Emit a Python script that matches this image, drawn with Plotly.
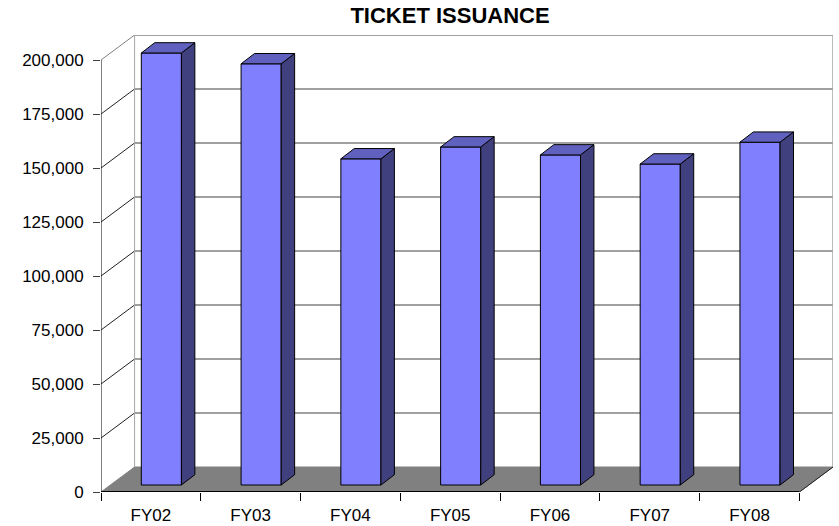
import plotly.graph_objects as go

categories = ["FY02", "FY03", "FY04", "FY05", "FY06", "FY07", "FY08"]
tickets = [200000, 195000, 151000, 156500, 152800, 148600, 158700]
y_ticks = [0, 25000, 50000, 75000, 100000, 125000, 150000, 175000, 200000]
chart_title = "TICKET ISSUANCE"

PX_X = 1 / 99.5            # category units per pixel
PX_Y = 200000 / 432        # value units per pixel
WALL_DX, WALL_DY = 33.5 * PX_X, 25 * PX_Y   # depth of the whole box
BAR_DX, BAR_DY = 13.4 * PX_X, 10.3 * PX_Y   # depth of each bar
BASE_X, BASE_Y = 0.105, 7 * PX_Y            # front face of bar vs front of box
BAR_W = 40 * PX_X
N = len(categories)
X_END = N + WALL_DX
FONT = "Liberation Sans, Arial, sans-serif"

shapes = []
def seg(x0, y0, x1, y1, color, width=1):
    shapes.append(dict(type="line", layer="below", xref="x", yref="y", x0=x0, y0=y0, x1=x1, y1=y1,
                       line=dict(color=color, width=width)))

# floor
shapes.append(dict(type="path", layer="below", xref="x", yref="y",
                   path=f"M0,0 L{N},0 L{X_END},{WALL_DY} L{WALL_DX},{WALL_DY} Z",
                   fillcolor="#808080", line=dict(color="#808080", width=1)))
top = y_ticks[-1]
# back wall grid and left-side grid
for t in y_ticks[1:]:
    seg(WALL_DX, t + WALL_DY, X_END, t + WALL_DY, "#808080", 1.5)
    seg(0, t, WALL_DX, t + WALL_DY, "#808080" if t == top else "#202020", 1)
seg(WALL_DX, WALL_DY, WALL_DX, top + WALL_DY, "#a6a6a6", 1)
seg(X_END, WALL_DY, X_END, top + WALL_DY, "#a6a6a6", 1.5)
seg(N, 0, X_END, WALL_DY, "#202020", 1)
# front axes
seg(0, 0, 0, top, "#000000", 1)
seg(0, 0, N, 0, "#000000", 2)

fig = go.Figure()
centers = [i + 0.5 + BASE_X for i in range(N)]
fig.add_trace(go.Bar(x=centers, y=tickets, base=BASE_Y, width=BAR_W,
                     marker=dict(color="#8080ff", line=dict(color="#000000", width=1)),
                     showlegend=False, hoverinfo="skip"))
for c, v in zip(centers, tickets):
    xl, xr = c - BAR_W / 2, c + BAR_W / 2
    yb, yt = BASE_Y, BASE_Y + v
    fig.add_trace(go.Scatter(
        x=[xr, xr + BAR_DX, xr + BAR_DX, xr, xr],
        y=[yb, yb + BAR_DY, yt + BAR_DY, yt, yb],
        mode="lines", fill="toself", fillcolor="#40407f",
        line=dict(color="#000000", width=1), showlegend=False, hoverinfo="skip"))
    fig.add_trace(go.Scatter(
        x=[xl, xl + BAR_DX, xr + BAR_DX, xr, xl],
        y=[yt, yt + BAR_DY, yt + BAR_DY, yt, yt],
        mode="lines", fill="toself", fillcolor="#6060bf",
        line=dict(color="#000000", width=1), showlegend=False, hoverinfo="skip"))

fig.update_layout(
    width=839, height=526, margin=dict(l=101, r=6, t=35, b=34, pad=0, autoexpand=False),
    paper_bgcolor="#ffffff", plot_bgcolor="#ffffff", shapes=shapes,
    font=dict(family=FONT, size=17, color="#000000"),
    title=dict(text=f"<b>{chart_title}</b>", x=450 / 839, xanchor="center", y=1 - 15 / 526, yanchor="middle",
               font=dict(family=FONT, size=22, color="#000000")),
    xaxis=dict(range=[0, X_END], tickvals=[i + 0.5 for i in range(N)], ticktext=categories,
               ticks="outside", ticklen=0, ticklabelstandoff=8, showgrid=False, zeroline=False, showline=False,
               minor=dict(tickvals=list(range(N + 1)), ticks="outside", ticklen=8, tickcolor="#000000", tickwidth=1, showgrid=False)),
    yaxis=dict(range=[0, 457 * PX_Y], tickvals=y_ticks, tickformat=",", ticks="outside", ticklen=7,
               ticklabelstandoff=6, tickcolor="#404040", tickwidth=1, showgrid=False, zeroline=False, showline=False),
)
fig.write_html("out.html", config={"displayModeBar": False},
               post_script="document.body.style.margin='0';document.body.style.overflow='hidden';")
